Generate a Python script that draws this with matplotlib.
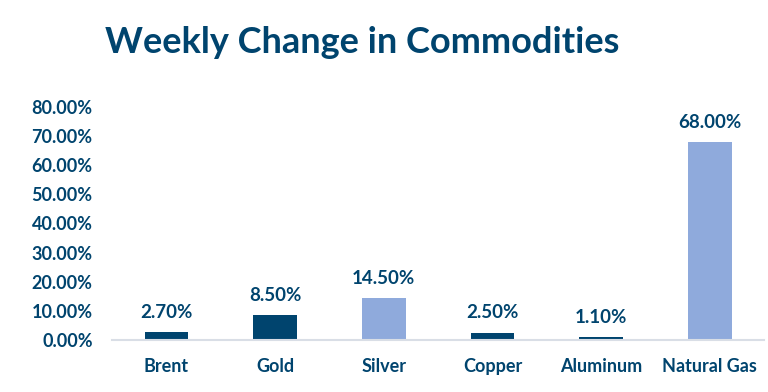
import matplotlib.pyplot as plt

categories = ["Brent", "Gold", "Silver", "Copper", "Aluminum", "Natural Gas"]
values = [0.027, 0.085, 0.145, 0.025, 0.011, 0.68]
labels = ["2.70%", "8.50%", "14.50%", "2.50%", "1.10%", "68.00%"]
highlight = [False, False, True, False, False, True]

navy = "#00446E"
light = "#8FAADC"
plt.rcParams["font.family"] = ["Lato", "DejaVu Sans"]

fig = plt.figure(figsize=(7.68, 3.92), dpi=100)
ax = fig.add_axes([0.146, 0.133, 0.849, 0.594])

colors = [light if h else navy for h in highlight]
bars = ax.bar(categories, values, width=0.4, color=colors)

for b, lab in zip(bars, labels):
    ax.annotate(lab, (b.get_x() + b.get_width() / 2, b.get_height()),
                xytext=(0, 8), textcoords="offset points",
                ha="center", va="bottom", fontsize=13.5, fontweight="bold", color=navy)

ax.set_ylim(0, 0.8)
ax.set_xlim(-0.5, len(categories) - 0.5)
ax.set_yticks([i / 10 for i in range(9)])
ax.set_yticklabels(["%.2f%%" % (i * 10) for i in range(9)])
for s in ["top", "right", "left"]:
    ax.spines[s].set_visible(False)
ax.spines["bottom"].set_color("#D9DEE6")
ax.spines["bottom"].set_linewidth(1.5)
ax.tick_params(axis="both", length=0, labelsize=13, labelcolor=navy)
ax.tick_params(axis="y", pad=14)
ax.tick_params(axis="x", pad=13)
for t in ax.get_xticklabels() + ax.get_yticklabels():
    t.set_fontweight("bold")

fig.text(105 / 768, 1 - 53 / 392, "Weekly Change in Commodities",
         fontsize=26, fontweight="bold", color=navy, ha="left", va="baseline")

fig.savefig("out.png", dpi=100)
